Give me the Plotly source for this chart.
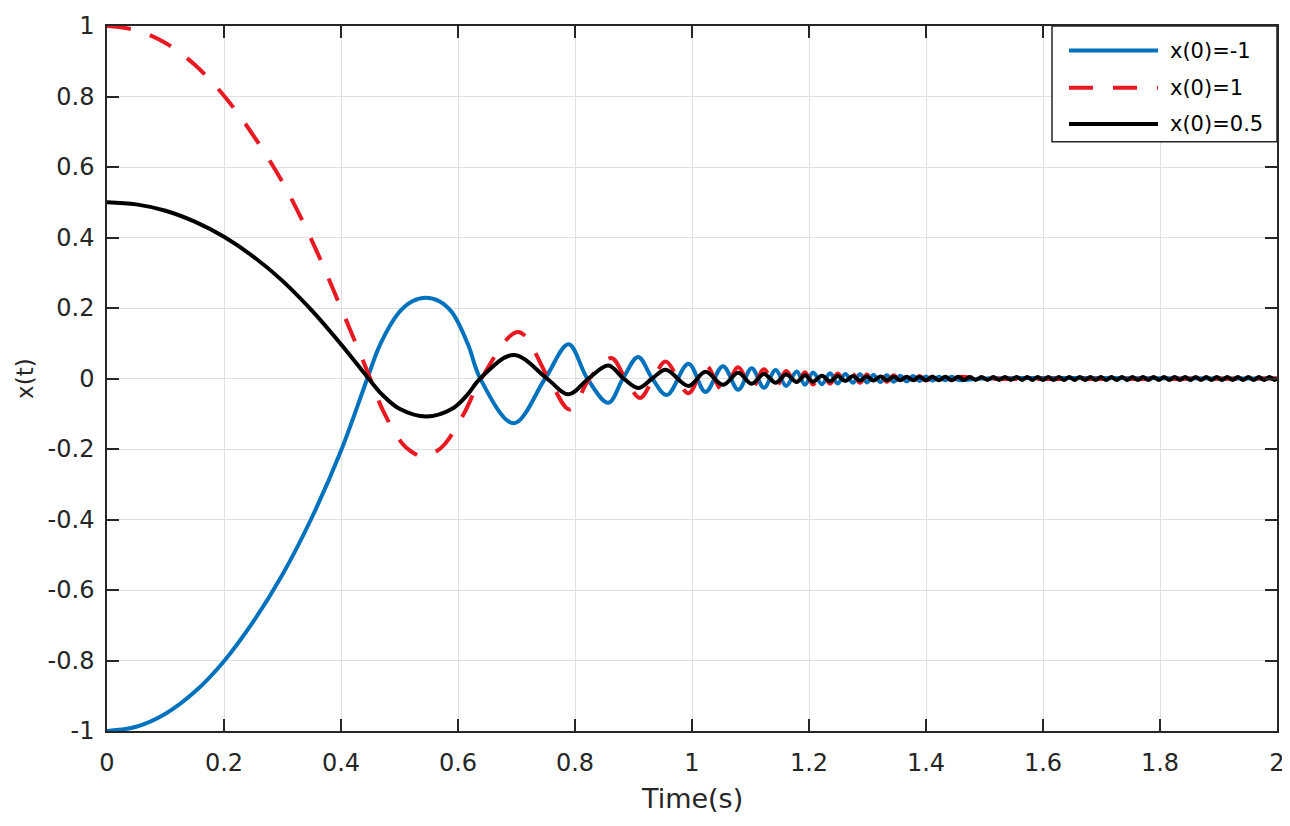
import plotly.graph_objects as go

# x(0) = -1  (blue, solid)
t_neg1 = [0, 0.05, 0.1, 0.15, 0.2, 0.25, 0.3, 0.35, 0.4, 0.445, 0.467, 0.499, 0.522, 0.545,
          0.568, 0.59, 0.617, 0.638, 0.695, 0.749, 0.789, 0.821, 0.857, 0.882, 0.908, 0.932,
          0.957, 0.994, 1.023, 1.053, 1.079, 1.102, 1.123, 1.143, 1.161, 1.179, 1.193, 1.207,
          1.222, 1.236, 1.249, 1.262, 1.275, 1.287, 1.299, 1.31, 1.322, 1.333, 1.345, 1.356,
          1.367, 1.378, 1.389, 1.4, 1.411, 1.422, 1.433, 1.444, 1.455, 1.5, 2.0]
x_neg1 = [-1.0, -0.988, -0.951, -0.889, -0.802, -0.69, -0.556, -0.395, -0.205, 0.0, 0.097, 0.187,
          0.219, 0.229, 0.219, 0.187, 0.097, 0.0, -0.127, 0.0, 0.097, 0.0, -0.069, 0.0, 0.061, 0.0,
          -0.047, 0.042, -0.038, 0.035, -0.032, 0.029, -0.026, 0.024, -0.021, 0.02, -0.018, 0.017,
          -0.016, 0.015, -0.014, 0.013, -0.012, 0.012, -0.011, 0.01, -0.01, 0.009, -0.009, 0.008,
          -0.008, 0.007, -0.007, 0.006, -0.006, 0.005, -0.005, 0.005, -0.004, 0.0, 0.0]

# x(0) = 1  (red, dashed)
t_pos1 = [0, 0.05, 0.1, 0.15, 0.2, 0.25, 0.3, 0.35, 0.4, 0.45, 0.472, 0.505, 0.52, 0.54,
          0.56, 0.578, 0.61, 0.64, 0.703, 0.755, 0.791, 0.825, 0.862, 0.886, 0.911, 0.934,
          0.955, 0.994, 1.023, 1.053, 1.079, 1.102, 1.123, 1.143, 1.161, 1.179, 1.193, 1.207,
          1.222, 1.236, 1.249, 1.262, 1.275, 1.287, 1.299, 1.31, 1.322, 1.333, 1.345, 1.356,
          1.367, 1.378, 1.389, 1.4, 1.411, 1.422, 1.433, 1.444, 1.455, 1.5, 2.0]
x_pos1 = [1.0, 0.988, 0.952, 0.89, 0.802, 0.69, 0.557, 0.392, 0.2, 0.0, -0.092, -0.185,
          -0.207, -0.222, -0.21, -0.185, -0.1, 0.0, 0.132, 0.0, -0.088, 0.0, 0.058, 0.0, -0.055, 0.0,
          0.048, -0.042, 0.038, -0.035, 0.032, -0.029, 0.026, -0.024, 0.021, -0.02, 0.018, -0.017,
          0.016, -0.015, 0.014, -0.013, 0.012, -0.012, 0.011, -0.01, 0.01, -0.009, 0.009, -0.008,
          0.008, -0.007, 0.007, -0.006, 0.006, -0.005, 0.005, -0.005, 0.004, 0.0, 0.0]

# x(0) = 0.5  (black, solid) - keeps a thin ripple all the way to t = 2
t_half = [0, 0.05, 0.1, 0.15, 0.2, 0.25, 0.3, 0.35, 0.4, 0.447, 0.47, 0.5, 0.546, 0.59,
          0.615, 0.638, 0.695, 0.752, 0.789, 0.823, 0.857, 0.883, 0.908, 0.932,
          0.955, 0.994, 1.023, 1.053, 1.079, 1.102, 1.123, 1.143, 1.161, 1.179, 1.193, 1.207,
          1.222, 1.236, 1.249, 1.262, 1.275, 1.287, 1.299, 1.31, 1.322, 1.333, 1.345, 1.356,
          1.367, 1.378, 1.389, 1.4, 1.411, 1.422, 1.433, 1.444, 1.455, 1.465, 1.475, 1.485,
          1.495, 1.505, 1.515, 1.525, 1.535, 1.545, 1.555, 1.564, 1.573, 1.582, 1.591, 1.6,
          1.609, 1.618, 1.627, 1.636, 1.645, 1.654, 1.663, 1.672, 1.681, 1.69, 1.699, 1.708,
          1.717, 1.726, 1.735, 1.744, 1.753, 1.762, 1.771, 1.78, 1.789, 1.798, 1.807, 1.816,
          1.825, 1.834, 1.843, 1.852, 1.861, 1.87, 1.879, 1.888, 1.897, 1.906, 1.915, 1.924,
          1.933, 1.942, 1.951, 1.96, 1.969, 1.978, 1.987, 1.996, 2.0]
x_half = [0.5, 0.494, 0.476, 0.445, 0.402, 0.346, 0.277, 0.193, 0.097, 0.0, -0.045, -0.086,
          -0.108, -0.086, -0.048, 0.0, 0.067, 0.0, -0.045, 0.0, 0.037, 0.0, -0.027, 0.0,
          0.025, -0.021, 0.019, -0.018, 0.016, -0.015, 0.013, -0.012, 0.011, -0.01, 0.009, -0.009,
          0.008, -0.008, 0.007, -0.007, 0.007, -0.006, 0.006, -0.006, 0.006, -0.005, 0.005, -0.005,
          0.005, -0.005, 0.005, -0.005, 0.005, -0.005, 0.005, -0.005, 0.005, -0.004, 0.004, -0.004,
          0.004, -0.004, 0.004, -0.004, 0.004, -0.004, 0.004, -0.004, 0.004, -0.004, 0.004, -0.004,
          0.004, -0.004, 0.004, -0.004, 0.004, -0.004, 0.004, -0.004, 0.004, -0.004, 0.004, -0.004,
          0.004, -0.004, 0.004, -0.004, 0.004, -0.004, 0.004, -0.004, 0.004, -0.004, 0.004, -0.004,
          0.004, -0.004, 0.004, -0.004, 0.004, -0.004, 0.004, -0.004, 0.004, -0.004, 0.004, -0.004,
          0.004, -0.004, 0.004, -0.004, 0.004, -0.004, 0.004, -0.004, 0.0]

x_ticks = [0, 0.2, 0.4, 0.6, 0.8, 1.0, 1.2, 1.4, 1.6, 1.8, 2.0]
x_ticktext = ["0", "0.2", "0.4", "0.6", "0.8", "1", "1.2", "1.4", "1.6", "1.8", "2"]
y_ticks = [-1, -0.8, -0.6, -0.4, -0.2, 0, 0.2, 0.4, 0.6, 0.8, 1]
y_ticktext = ["-1", "-0.8", "-0.6", "-0.4", "-0.2", "0", "0.2", "0.4", "0.6", "0.8", "1"]

labels = ["x(0)=-1", "x(0)=1", "x(0)=0.5"]
colors = ["#0072BD", "#EA1820", "#000000"]
dashes = ["solid", "24px,20px", "solid"]

FONT = "DejaVu Sans, Arial, sans-serif"
TXT = "#262626"

fig = go.Figure()
for t, x, name, col, dash in zip([t_neg1, t_pos1, t_half], [x_neg1, x_pos1, x_half],
                                 labels, colors, dashes):
    fig.add_trace(go.Scatter(x=t, y=x, mode="lines", name=name, showlegend=False,
                             line=dict(color=col, width=4, dash=dash, shape="spline", smoothing=1.0)))

axis_common = dict(
    showgrid=True, gridcolor="#E0E0E0", gridwidth=1,
    showline=True, linecolor=TXT, linewidth=1.5, mirror="ticks",
    ticks="inside", ticklen=12, tickwidth=1.5, tickcolor=TXT,
    tickfont=dict(family=FONT, size=24, color=TXT),
    ticklabeloverflow="allow",
    zeroline=False,
)

fig.update_xaxes(range=[0, 2], tickvals=x_ticks, ticktext=x_ticktext, ticklabelstandoff=9, **axis_common)
fig.update_yaxes(range=[-1, 1], tickvals=y_ticks, ticktext=y_ticktext, ticklabelstandoff=6, **axis_common)

# legend drawn by hand so the sample lines match the long MATLAB style
box_x0, box_x1, box_y0, box_y1 = 0.8077, 1.0, 0.8359, 1.0
fig.add_shape(type="rect", xref="paper", yref="paper", x0=box_x0, x1=box_x1, y0=box_y0, y1=box_y1,
              line=dict(color=TXT, width=1.5), fillcolor="white", layer="above")
row_y = [0.9652, 0.9124, 0.8609]
for yy, name, col, dash in zip(row_y, labels, colors, dashes):
    fig.add_shape(type="line", xref="paper", yref="paper", x0=0.8222, x1=0.8983, y0=yy, y1=yy,
                  line=dict(color=col, width=4, dash=dash), layer="above")
    fig.add_annotation(xref="paper", yref="paper", x=0.9068, y=yy, text=name, showarrow=False,
                       xanchor="left", yanchor="middle", font=dict(family=FONT, size=21, color="#000000"))

fig.add_annotation(xref="paper", yref="paper", x=0.5, y=-0.096, text="Time(s)", showarrow=False,
                   xanchor="center", yanchor="middle", font=dict(family=FONT, size=27, color=TXT))
fig.add_annotation(xref="paper", yref="paper", x=-0.0706, y=0.5, text="x(t)", showarrow=False,
                   textangle=-90, xanchor="center", yanchor="middle", font=dict(family=FONT, size=23, color=TXT))

# the page sits 8px in from the window edge, so the figure is 8px smaller
fig.update_layout(
    width=1282, height=818,
    margin=dict(l=99, r=13, t=4, b=95),
    paper_bgcolor="white", plot_bgcolor="white",
    showlegend=False,
)

fig.write_html("out.html")
